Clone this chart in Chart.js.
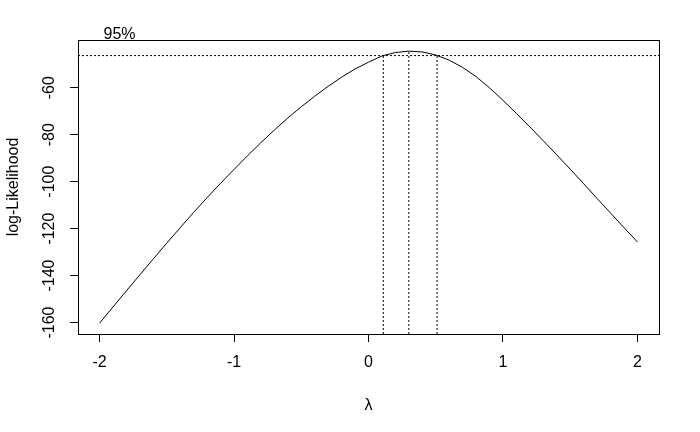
<!DOCTYPE html>
<html>
<head>
<meta charset="utf-8">
<script src="https://cdn.jsdelivr.net/npm/chart.js@4.4.1/dist/chart.umd.min.js"></script>
<style>
    html, body { margin: 0; padding: 0; background: #fff; }
    #wrap { width: 700px; height: 432px; }
</style>
</head>
<body>
<div id="wrap"><canvas id="chart" width="700" height="432"></canvas></div>
<script>
// lambda grid and profile log-likelihood
const lambdas = [-2.0, -1.9, -1.8, -1.7, -1.6, -1.5, -1.4, -1.3, -1.2, -1.1,
    -1.0, -0.9, -0.8, -0.7, -0.6, -0.5, -0.4, -0.3, -0.2, -0.1,
    0.0, 0.1, 0.2, 0.3, 0.4, 0.5, 0.6, 0.7, 0.8, 0.9,
    1.0, 1.1, 1.2, 1.3, 1.4, 1.5, 1.6, 1.7, 1.8, 1.9, 2.0];
const logLik = [-160.3, -153.4, -146.5, -139.7, -132.9, -126.2, -119.6, -113.1, -106.8, -100.7,
    -94.8, -89.0, -83.4, -78.0, -72.9, -68.1, -63.6, -59.4, -55.5, -52.0,
    -49.1, -46.45, -45.0, -44.4, -44.75, -46.05, -48.25, -51.35, -55.25, -60.05,
    -65.35, -70.95, -76.7, -82.6, -88.6, -94.7, -100.9, -107.2, -113.4, -119.6, -125.7];

const xTicks = [-2, -1, 0, 1, 2];
const yTicks = [-160, -140, -120, -100, -80, -60];

const lim95 = -46.3;        // 95% cut-off
const ciLambda = [0.11, 0.51];
const lambdaHat = 0.3;
const maxLogLik = -44.4;

const xMin = -2.16, xMax = 2.16;
const yMin = -164.9, yMax = -39.66;

const FONT = '"Liberation Sans", Arial, sans-serif';
const ctx = document.getElementById('chart').getContext('2d');

function dotted(points) {
    return {
        data: points,
        borderColor: '#000',
        borderWidth: 1,
        borderDash: [2, 2],
        pointRadius: 0,
        fill: false
    };
}

// box around the plot region and the 95% label
const boxPlugin = {
    id: 'box',
    afterDraw(chart) {
        const a = chart.chartArea;
        const c = chart.ctx;
        c.save();
        c.strokeStyle = '#000';
        c.lineWidth = 1;
        c.strokeRect(Math.round(a.left) + 0.5, Math.round(a.top) + 0.5,
            Math.round(a.right - a.left), Math.round(a.bottom - a.top));
        const xs = chart.scales.x, ys = chart.scales.y;
        c.fillStyle = '#000';
        c.font = '16px ' + FONT;
        c.textAlign = 'center';
        c.textBaseline = 'middle';
        c.fillText('95%', xs.getPixelForValue(lambdas[0]) + 20, ys.getPixelForValue(lim95) - 21);
        c.restore();
    }
};

new Chart(ctx, {
    type: 'line',
    data: {
        datasets: [
            {
                data: lambdas.map((l, i) => ({ x: l, y: logLik[i] })),
                borderColor: '#000',
                borderWidth: 1,
                pointRadius: 0,
                tension: 0,
                fill: false
            },
            dotted([{ x: xMin, y: lim95 }, { x: xMax, y: lim95 }]),
            dotted([{ x: ciLambda[0], y: yMin }, { x: ciLambda[0], y: lim95 }]),
            dotted([{ x: lambdaHat, y: yMin }, { x: lambdaHat, y: maxLogLik }]),
            dotted([{ x: ciLambda[1], y: yMin }, { x: ciLambda[1], y: lim95 }])
        ]
    },
    options: {
        responsive: false,
        animation: false,
        devicePixelRatio: 1,
        layout: { padding: { top: 40, right: 41, left: 0, bottom: 0 } },
        plugins: {
            legend: { display: false },
            tooltip: { enabled: false }
        },
        scales: {
            x: {
                type: 'linear',
                min: xMin,
                max: xMax,
                afterBuildTicks: s => { s.ticks = xTicks.map(v => ({ value: v })); },
                afterFit: s => { s.height = 98; },
                border: { display: false },
                grid: { drawOnChartArea: false, drawTicks: true, tickLength: 8, color: '#000' },
                ticks: { color: '#000', font: { family: FONT, size: 16 }, padding: 11, maxRotation: 0 },
                title: { display: true, text: 'λ', color: '#000', font: { family: FONT, size: 16 }, padding: { top: 0, bottom: 17 } }
            },
            y: {
                type: 'linear',
                min: yMin,
                max: yMax,
                afterBuildTicks: s => { s.ticks = yTicks.map(v => ({ value: v })); },
                afterFit: s => { s.width = 78; },
                border: { display: false },
                grid: { drawOnChartArea: false, drawTicks: true, tickLength: 8, color: '#000' },
                ticks: { color: '#000', font: { family: FONT, size: 16 }, padding: 4, minRotation: 90, maxRotation: 90, crossAlign: 'center' },
                title: { display: true, text: 'log-Likelihood', color: '#000', font: { family: FONT, size: 16 }, padding: { top: 4, bottom: 0 } }
            }
        }
    },
    plugins: [boxPlugin]
});
</script>
</body>
</html>
